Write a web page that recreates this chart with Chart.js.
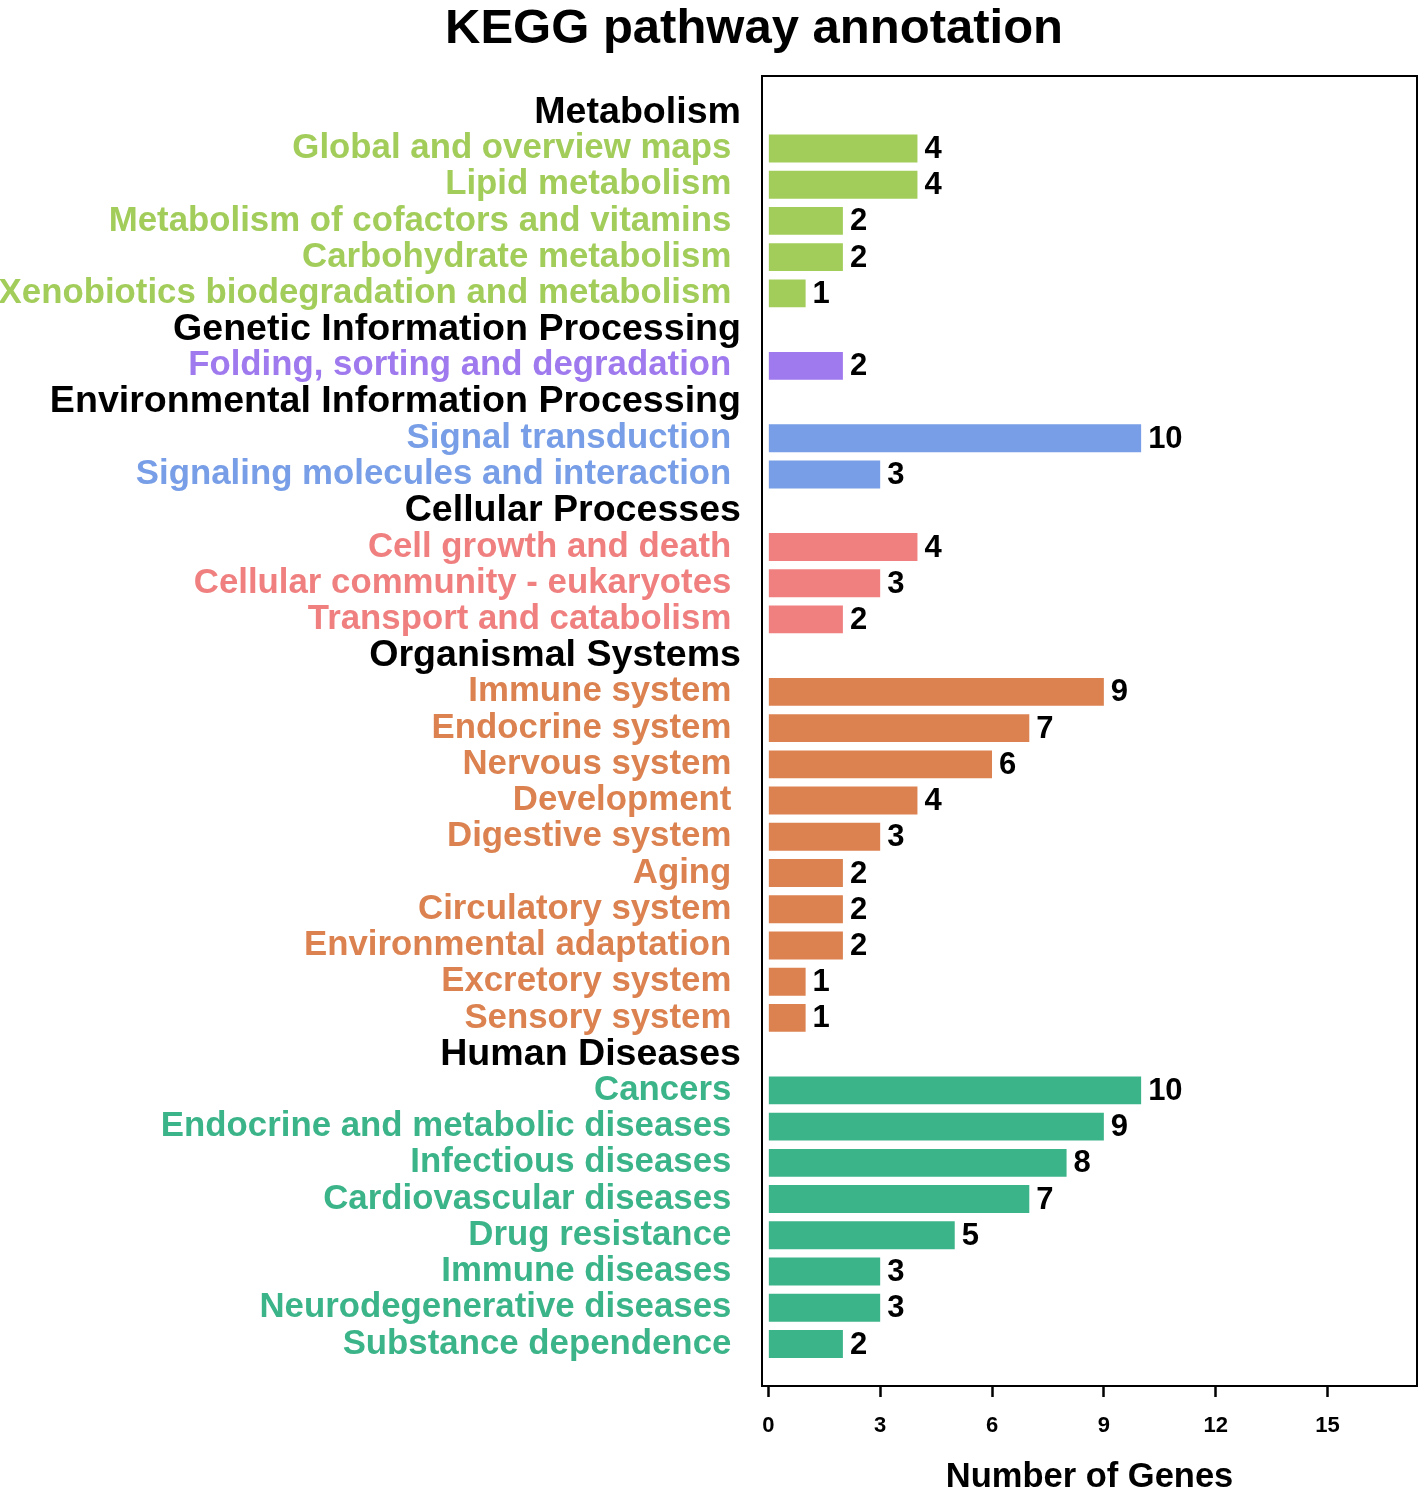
<!DOCTYPE html>
<html>
<head>
<meta charset="utf-8">
<script src="https://cdn.jsdelivr.net/npm/chart.js@4.4.1/dist/chart.umd.min.js"></script>
<style>
    html, body { margin: 0; padding: 0; background: #fff; }
    #wrap { width: 1420px; height: 1492px; position: relative; }
</style>
</head>
<body>
<div id="wrap"><canvas id="kegg-chart"></canvas></div>
<script>
// KEGG level 1 classes and their colours
const groupNames = ['Metabolism', 'Genetic Information Processing', 'Environmental Information Processing',
    'Cellular Processes', 'Organismal Systems', 'Human Diseases'];
const groupColors = ['#A2CD5A', '#9F79EE', '#779EE6', '#F08080', '#DB8250', '#3CB489'];

// level 2 pathways and gene counts, one pair per class
const metabolismPaths = ['Global and overview maps', 'Lipid metabolism', 'Metabolism of cofactors and vitamins',
    'Carbohydrate metabolism', 'Xenobiotics biodegradation and metabolism'];
const metabolismCounts = [4, 4, 2, 2, 1];
const geneticPaths = ['Folding, sorting and degradation'];
const geneticCounts = [2];
const environmentalPaths = ['Signal transduction', 'Signaling molecules and interaction'];
const environmentalCounts = [10, 3];
const cellularPaths = ['Cell growth and death', 'Cellular community - eukaryotes', 'Transport and catabolism'];
const cellularCounts = [4, 3, 2];
const organismalPaths = ['Immune system', 'Endocrine system', 'Nervous system', 'Development', 'Digestive system',
    'Aging', 'Circulatory system', 'Environmental adaptation', 'Excretory system', 'Sensory system'];
const organismalCounts = [9, 7, 6, 4, 3, 2, 2, 2, 1, 1];
const diseasePaths = ['Cancers', 'Endocrine and metabolic diseases', 'Infectious diseases', 'Cardiovascular diseases',
    'Drug resistance', 'Immune diseases', 'Neurodegenerative diseases', 'Substance dependence'];
const diseaseCounts = [10, 9, 8, 7, 5, 3, 3, 2];

const xTicks = [0, 3, 6, 9, 12, 15];

const groupPaths = [metabolismPaths, geneticPaths, environmentalPaths, cellularPaths, organismalPaths, diseasePaths];
const groupCounts = [metabolismCounts, geneticCounts, environmentalCounts, cellularCounts, organismalCounts, diseaseCounts];

// rows: header line then its pathways
let rowLabels = [];
let rowIsHeader = [];
let rowColors = [];
let barPoints = [];
let barColors = [];
groupNames.forEach((g, gi) => {
    rowLabels.push(g);
    rowIsHeader.push(true);
    rowColors.push('#000000');
    groupPaths[gi].forEach((p, pi) => {
        barPoints.push({ x: groupCounts[gi][pi], y: rowLabels.length });
        barColors.push(groupColors[gi]);
        rowLabels.push(p);
        rowIsHeader.push(false);
        rowColors.push(groupColors[gi]);
    });
});

const FONT = '"Liberation Sans", Arial, Helvetica, sans-serif';

// plot frame, value labels and main title
const extras = {
    id: 'extras',
    afterDatasetsDraw(chart) {
        const c = chart.ctx;
        c.save();
        c.font = 'bold 31px ' + FONT;
        c.fillStyle = '#000';
        c.textAlign = 'left';
        c.textBaseline = 'middle';
        chart.getDatasetMeta(0).data.forEach((bar, i) => {
            c.fillText(String(barPoints[i].x), bar.x + 7, bar.y + 1);
        });
        c.restore();
    },
    afterDraw(chart) {
        const a = chart.chartArea;
        const c = chart.ctx;
        c.save();
        c.strokeStyle = '#000';
        c.lineWidth = 2;
        c.strokeRect(a.left, a.top, a.right - a.left, a.bottom - a.top);
        c.font = 'bold 49px ' + FONT;
        c.fillStyle = '#000';
        c.textAlign = 'center';
        c.textBaseline = 'alphabetic';
        c.fillText('KEGG pathway annotation', 754, 43);
        c.restore();
    }
};

const chart = new Chart(document.getElementById('kegg-chart'), {
    type: 'bar',
    data: {
        datasets: [{
            data: barPoints,
            backgroundColor: barColors,
            borderWidth: 0,
            barPercentage: 0.77,
            categoryPercentage: 1
        }]
    },
    plugins: [extras],
    options: {
        indexAxis: 'y',
        responsive: true,
        maintainAspectRatio: false,
        animation: false,
        layout: { padding: { top: 76, right: 3, left: 0, bottom: 0 } },
        plugins: {
            legend: { display: false },
            tooltip: { enabled: false },
            title: { display: false }
        },
        scales: {
            y: {
                type: 'linear',
                offset: false,
                reverse: true,
                min: -1.0,
                max: 35.16,
                afterBuildTicks: s => { s.ticks = rowLabels.map((_, i) => ({ value: i })); },
                afterFit: s => { s.width = 762; },
                grid: { display: false, drawTicks: false, offset: false },
                border: { display: false },
                ticks: {
                    autoSkip: false,
                    padding: 21,
                    callback: v => rowIsHeader[v] ? rowLabels[v] : rowLabels[v] + ' ',
                    color: ctx => rowColors[ctx.index],
                    font: ctx => ({
                        family: FONT,
                        weight: 'bold',
                        size: rowIsHeader[ctx.index] ? 37.6 : 34.8
                    })
                }
            },
            x: {
                type: 'linear',
                min: -0.17,
                max: 17.4,
                afterBuildTicks: s => { s.ticks = xTicks.map(v => ({ value: v })); },
                afterFit: s => { s.height = 106; },
                grid: {
                    display: true,
                    drawOnChartArea: false,
                    drawTicks: true,
                    tickLength: 11,
                    tickWidth: 2.5,
                    tickColor: '#000'
                },
                border: { display: false },
                ticks: {
                    padding: 16,
                    color: '#000',
                    font: { family: FONT, weight: 'bold', size: 22 }
                },
                title: {
                    display: true,
                    text: 'Number of Genes',
                    color: '#000',
                    font: { family: FONT, weight: 'bold', size: 34.5, lineHeight: 0.85 },
                    padding: { top: 0, bottom: 0 }
                }
            }
        }
    }
});
</script>
</body>
</html>
